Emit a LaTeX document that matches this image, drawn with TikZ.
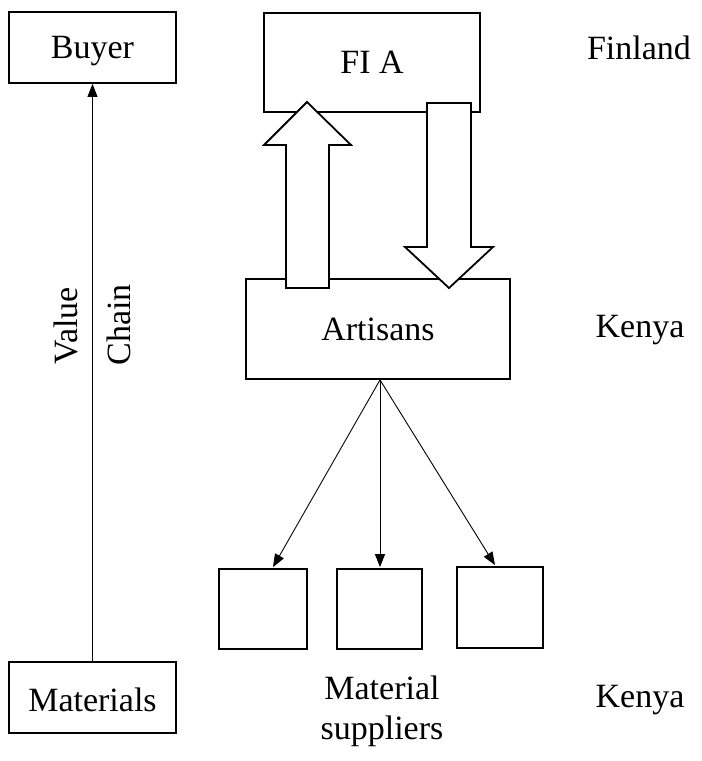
\documentclass[tikz,border=0pt]{standalone}
\usepackage{fontspec}
\setmainfont{Liberation Serif}
\usetikzlibrary{arrows.meta,calc}
\begin{document}
\begin{tikzpicture}[x=1pt,y=-1pt,
  font=\fontsize{34}{40}\selectfont,
  box/.style={draw, line width=1.8pt, fill=white, inner sep=0pt},
  link/.style={line width=0.9pt, -{Triangle[length=13pt,width=10pt]}},
  blockarrow/.style={draw, line width=1.8pt, fill=white, line join=miter},
  label/.style={inner sep=0pt}]
\useasboundingbox (0,0) rectangle (702,761);

% value chain column
\node[box, minimum width=167pt, minimum height=71pt] (buy) at (92.5,47.5) {};
\node[label] (buyt) at (92.5,51) {Buyer};
\node[box, minimum width=167pt, minimum height=71pt] (mat) at (92.5,697.5) {};
\node[label] (matt) at (92.5,699.5) {Materials};
\draw[link] (mat.north) -- (buy.south);
\node[label, rotate=90] (val) at (66,326) {Value};
\node[label, rotate=90] (chn) at (119,325) {Chain};

% organisations
\node[box, minimum width=216pt, minimum height=99pt] (fia) at (372,62.5) {FI A};
\node[box, minimum width=264pt, minimum height=100pt] (art) at (378,329) {Artisans};

% suppliers
\node[box, minimum width=88pt, minimum height=80pt] (s1) at (263,609) {};
\node[box, minimum width=85pt, minimum height=80pt] (s2) at (379.5,609) {};
\node[box, minimum width=86pt, minimum height=81pt] (s3) at (500,607.5) {};
\coordinate (a0) at ($(art.south)+(2,0)$);
\draw[link] (a0) -- ($(s1.north)+(10,-1)$);
\draw[link] (a0) -- ($(s2.north)+(0.5,-1)$);
\draw[link] (a0) -- ($(s3.north)+(-5,-1)$);
\node[label, align=center] (sup) at (382,711) {Material\\suppliers};

% flows between FI A and the artisans
\draw[blockarrow] (286,288) -- (286,145) -- (264,145) -- (307,102) -- (351,145)
  -- (329,145) -- (329,288) -- cycle;
\draw[blockarrow] (427,103) -- (471,103) -- (471,247) -- (493,247) -- (449,288)
  -- (405,247) -- (427,247) -- cycle;

% countries
\node[label] (fin) at (639,48) {Finland};
\node[label] (ken1) at (640,330) {Kenya};
\node[label] (ken2) at (640,700) {Kenya};
\end{tikzpicture}
\end{document}
